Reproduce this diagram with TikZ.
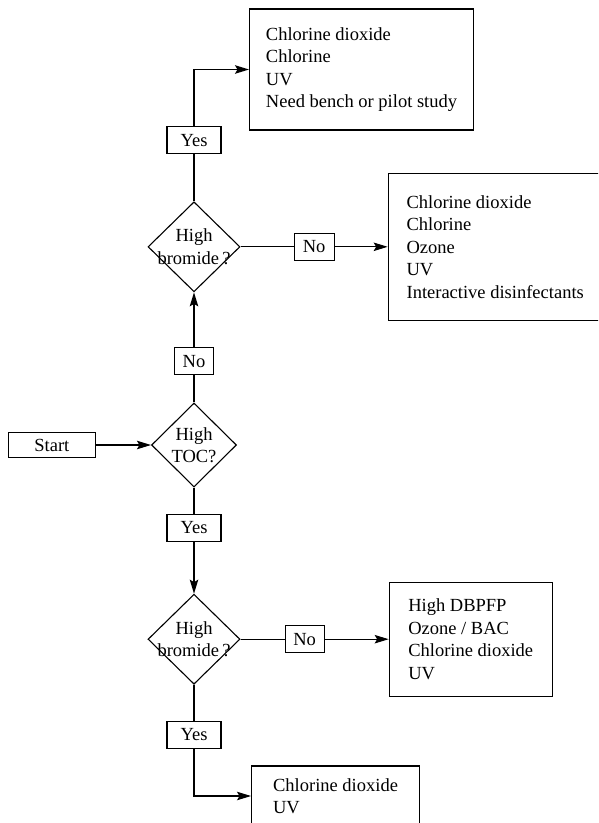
\documentclass[tikz,border=0pt]{standalone}
\usepackage{fontspec}
\setmainfont{Liberation Serif}
\usetikzlibrary{shapes.geometric,arrows.meta,positioning}

\begin{document}
\begin{tikzpicture}[
x=1pt, y=-1pt,
line width=1.1pt,
font=\fontsize{18.5}{22.5}\selectfont,
decision/.style={
    draw,
    diamond,
    inner sep=0pt,
    minimum width=92pt,
    minimum height=90pt
},
choice/.style={
    draw,
    minimum width=#1,
    minimum height=27pt,
    inner sep=0pt
},
choice/.default=54pt,
result/.style={
    draw,
    align=left,
    anchor=west
},
arrow/.style={-{Stealth[length=14pt,width=8.5pt,inset=2.5pt]}}
]

\clip (0,0) rectangle (598,823);

\node[decision, minimum width=85pt, minimum height=84pt,
      label={[align=center]center:High\\TOC?}] (toc) at (194,445) {};
\node[draw, minimum width=87pt, minimum height=25pt, inner sep=0pt, left=55pt of toc] (start) {Start};

% upper branch
\node[choice=39pt, above=27pt of toc] (noA) {No};
\node[decision, above=55pt of noA, label={[align=center]center:High\\bromide\,?}] (brA) {};
\node[choice, above=47pt of brA] (yesA) {Yes};
\node[result, minimum width=224pt, minimum height=121pt] (opt1) at (249,69.5)
    {Chlorine dioxide\\Chlorine\\UV\\Need bench or pilot study};
\node[choice=40pt, right=53pt of brA] (noB) {No};
\node[result, minimum width=214pt, minimum height=147pt, right=53pt of noB] (opt2)
    {Chlorine dioxide\\Chlorine\\Ozone\\UV\\Interactive disinfectants};

% lower branch
\node[choice, below=26pt of toc] (yesB) {Yes};
\node[decision, below=52pt of yesB, label={[align=center]center:High\\bromide\,?}] (brB) {};
\node[choice=39pt, right=44pt of brB] (noC) {No};
\node[result, minimum width=163pt, minimum height=114pt, right=64pt of noC] (opt3)
    {High DBPFP\\Ozone / BAC\\Chlorine dioxide\\UV};
\node[choice, below=36pt of brB] (yesC) {Yes};
\node[result, minimum width=168pt, minimum height=60pt] (opt4) at (251,796)
    {Chlorine dioxide\\UV};

\draw[arrow] (start) -- (toc);
\draw (toc) -- (noA);
\draw[arrow] (noA) -- (brA);
\draw (brA) -- (noB);
\draw[arrow] (noB) -- (opt2);
\draw (brA) -- (yesA);
\draw[arrow] (yesA) |- (opt1);
\draw (toc) -- (yesB);
\draw[arrow] (yesB) -- (brB);
\draw (brB) -- (noC);
\draw[arrow] (noC) -- (opt3);
\draw (brB) -- (yesC);
\draw[arrow] (yesC) |- (opt4);

\end{tikzpicture}
\end{document}
